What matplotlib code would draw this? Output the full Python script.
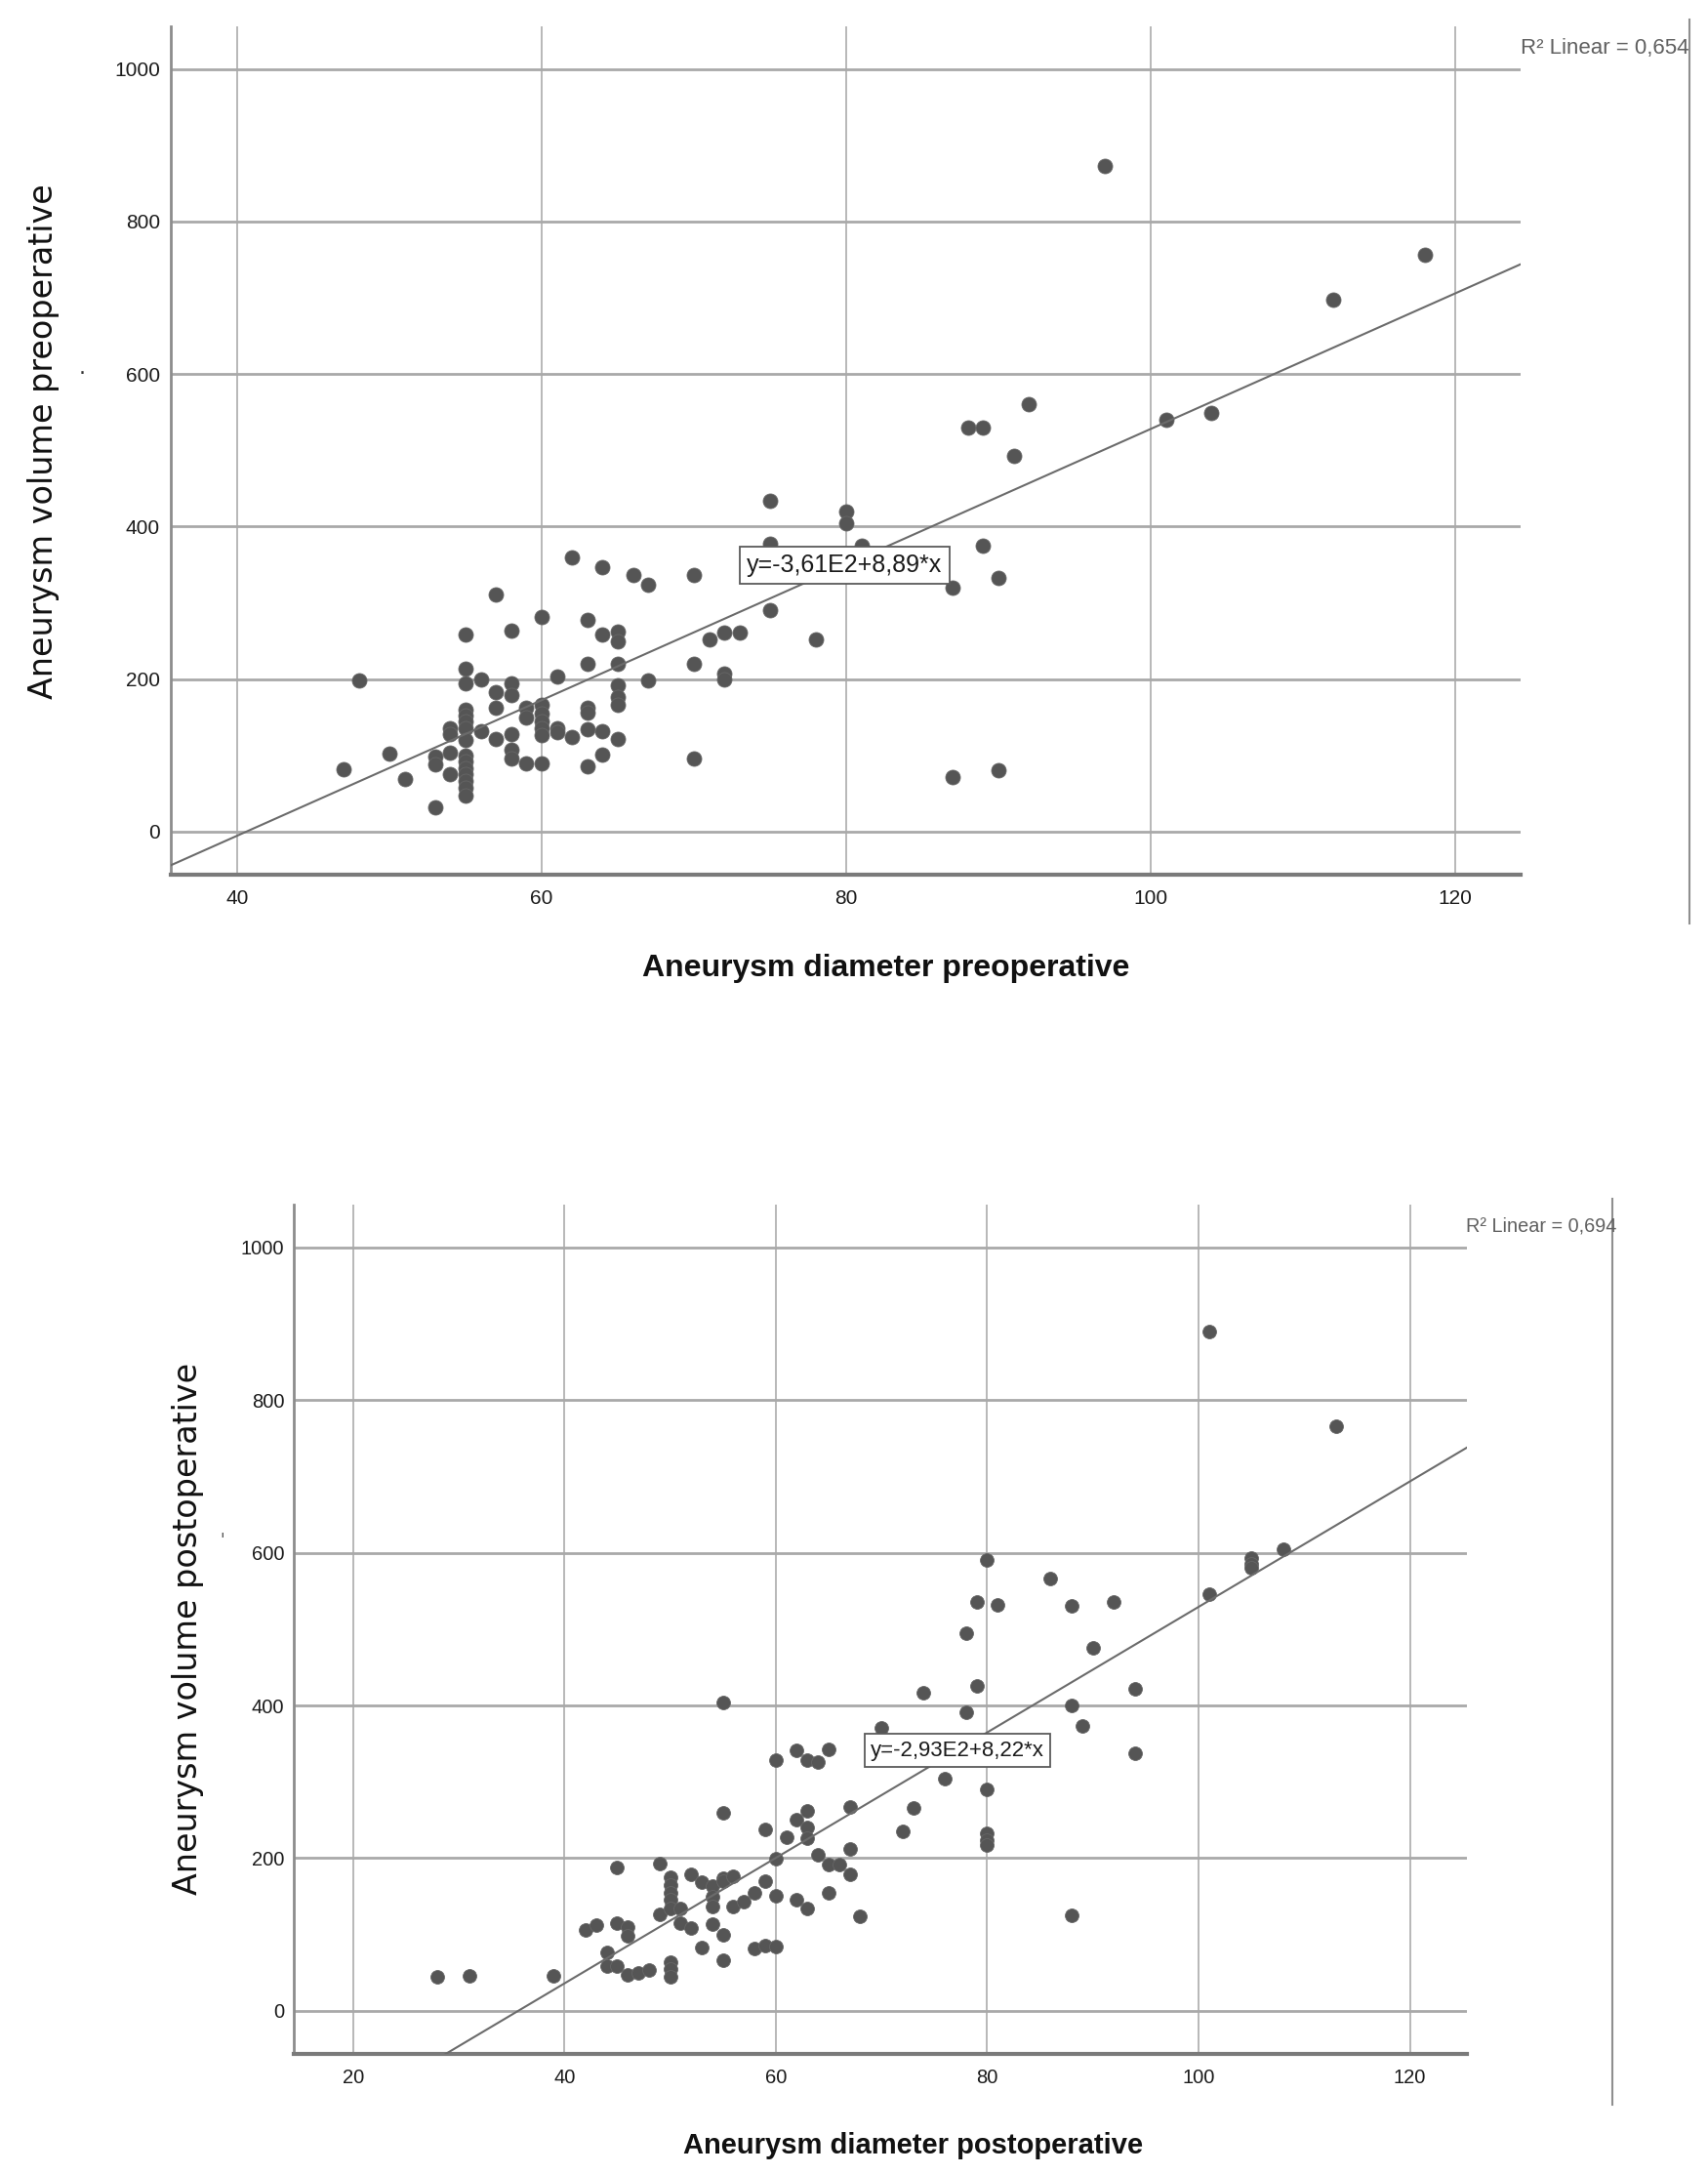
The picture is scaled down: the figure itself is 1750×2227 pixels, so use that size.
import numpy as np
import matplotlib
matplotlib.use("Agg")
import matplotlib.pyplot as plt
import matplotlib.font_manager as fm
from matplotlib.lines import Line2D

# ---------------- data ----------------
pre_diameter = [
    47, 48, 50, 51,
    53, 53, 53,
    54, 54, 54, 54,
    55, 55, 55, 55, 55, 55, 55, 55, 55, 55, 55, 55, 55, 55, 55,
    56, 56,
    57, 57, 57, 57,
    58, 58, 58, 58, 58, 58,
    59, 59, 59,
    60, 60, 60, 60, 60, 60, 60,
    61, 61, 61,
    62, 62,
    63, 63, 63, 63, 63, 63,
    64, 64, 64, 64,
    65, 65, 65, 65, 65, 65, 65,
    66, 67, 67,
    70, 70, 70, 71, 72, 72, 72, 73,
    75, 75, 75, 78, 80, 80, 81,
    87, 87, 88, 89, 89, 90, 90, 91, 92,
    97, 101, 104, 112, 118]
pre_volume = [
    82, 198, 102, 69,
    98, 88, 32,
    135, 128, 103, 75,
    258, 214, 195, 160, 152, 145, 135, 120, 100, 92, 83, 75, 66, 58, 47,
    200, 132,
    311, 183, 162, 121,
    264, 194, 179, 128, 107, 96,
    162, 149, 90,
    281, 166, 155, 145, 135, 126, 90,
    203, 136, 130,
    360, 124,
    278, 220, 162, 156, 134, 85,
    347, 258, 132, 101,
    262, 250, 220, 192, 176, 166, 121,
    337, 324, 198,
    337, 220, 96, 252, 261, 207, 200, 261,
    434, 378, 290, 252, 420, 405, 375,
    320, 71, 530, 530, 375, 333, 80, 493, 560,
    873, 540, 549, 698, 757]

post_diameter = [
    28, 31, 39, 42, 43,
    44, 44,
    45, 45, 45,
    46, 46, 46,
    47, 48,
    49, 49,
    50, 50, 50, 50, 50, 50, 50, 50,
    51, 51,
    52, 52,
    53, 53,
    54, 54, 54, 54,
    55, 55, 55, 55, 55, 55,
    56, 56, 57,
    58, 58,
    59, 59, 59,
    60, 60, 60, 60,
    61,
    62, 62, 62,
    63, 63, 63, 63, 63,
    64, 64,
    65, 65, 65,
    66,
    67, 67, 67,
    68, 70, 72, 73, 74, 76,
    78, 78, 79, 79,
    80, 80, 80, 80, 80,
    81, 86,
    88, 88, 88,
    89, 90, 92, 94, 94,
    101, 101,
    105, 105, 105,
    108, 113]
post_volume = [
    45, 46, 46, 106, 112,
    77, 59,
    188, 115, 58,
    110, 98, 47,
    49, 53,
    193, 126,
    175, 165, 155, 145, 134, 64, 55, 45,
    134, 115,
    179, 109,
    168, 83,
    164, 150, 137, 113,
    404, 259, 174, 170, 100, 66,
    176, 136, 143,
    155, 82,
    237, 170, 85,
    328, 199, 151, 84,
    228,
    341, 250, 146,
    328, 262, 240, 226, 134,
    326, 204,
    343, 191, 154,
    191,
    267, 212, 179,
    124, 371, 235, 266, 416, 304,
    495, 391, 536, 425,
    590, 290, 232, 224, 217,
    532, 566,
    531, 400, 125,
    373, 476, 535, 422, 337,
    890, 546,
    593, 586, 580,
    604, 766]

pre_fit = (-361.0, 8.89)      # intercept, slope (from chart label)
post_fit = (-293.0, 8.22)
pre_fit_label = "y=-3,61E2+8,89*x"
post_fit_label = "y=-2,93E2+8,22*x"
pre_r2_label = "R\u00b2 Linear = 0,654"
post_r2_label = "R\u00b2 Linear = 0,694"

pre_xticks = [40, 60, 80, 100, 120]
post_xticks = [20, 40, 60, 80, 100, 120]
yticks = [0, 200, 400, 600, 800, 1000]

# ---------------- fonts ----------------
names = {f.name for f in fm.fontManager.ttflist}
SANS = "Liberation Sans" if "Liberation Sans" in names else "DejaVu Sans"

W, H = 1750, 2227
fig = plt.figure(figsize=(W / 100, H / 100), dpi=100, facecolor="white")


def fx(px):
    return px / W


def fy(py):
    return 1 - py / H


def make_axes(left, right, top, bottom):
    return fig.add_axes([fx(left), fy(bottom), fx(right) - fx(left), (bottom - top) / H])


def style(ax, xlim, xticks, tick_fs, xpad, ypad):
    ax.set_xlim(*xlim)
    ax.set_ylim(-56.5, 1056)
    ax.set_xticks(xticks)
    ax.set_yticks(yticks)
    ax.set_xticklabels([str(t) for t in xticks], fontfamily=SANS)
    ax.set_yticklabels([str(t) for t in yticks], fontfamily=SANS)
    ax.tick_params(axis="both", length=0, labelsize=tick_fs, labelcolor="#1a1a1a")
    ax.tick_params(axis="x", pad=xpad)
    ax.tick_params(axis="y", pad=ypad)
    ax.grid(axis="y", color="#a9a9a9", lw=2.0, zorder=0)
    ax.grid(axis="x", color="#b8b8b8", lw=1.4, zorder=0)
    ax.set_axisbelow(True)
    for s in ("top", "right"):
        ax.spines[s].set_visible(False)
    ax.spines["left"].set_color("#8c8c8c")
    ax.spines["left"].set_linewidth(2.0)
    ax.spines["bottom"].set_color("#7a7a7a")
    ax.spines["bottom"].set_linewidth(3.0)


def draw(ax, xs, ys, fit, fit_label, label_pos, label_fs, ms):
    ax.scatter(xs, ys, s=ms, color="#555555", edgecolors="#666666",
               linewidths=0.6, zorder=3)
    xl = np.array(ax.get_xlim())
    ax.plot(xl, fit[0] + fit[1] * xl, color="#6b6b6b", lw=1.5, zorder=4)
    ax.text(label_pos[0], label_pos[1], fit_label, ha="center", va="center",
            fontsize=label_fs, fontfamily=SANS, color="#1a1a1a", zorder=6,
            bbox=dict(boxstyle="square,pad=0.28", fc="white", ec="#5a5a5a", lw=1.3))


# ---------------- top chart ----------------
ax1 = make_axes(175, 1558, 27, 896)
style(ax1, (35.64, 124.3), pre_xticks, 15, 11, 8)
draw(ax1, pre_diameter, pre_volume, pre_fit, pre_fit_label, (79.9, 349), 18, 117)

fig.text(fx(45), fy(452), "Aneurysm volume preoperative", rotation=90,
         ha="center", va="center", fontsize=24, fontfamily="DejaVu Sans", color="#111111")
fig.text(fx(908), fy(992), "Aneurysm diameter preoperative", ha="center", va="center",
         fontsize=23, fontweight="bold", fontfamily=SANS, color="#111111")
fig.text(fx(1558), fy(55), pre_r2_label, ha="left", va="baseline",
         fontsize=16, fontfamily=SANS, color="#606060")
fig.add_artist(Line2D([fx(1731), fx(1731)], [fy(20), fy(946)], color="#8f8f8f", lw=1.5))
fig.text(fx(84), fy(383), ".", ha="center", va="baseline", fontsize=16, color="#333333")

# ---------------- bottom chart ----------------
ax2 = make_axes(301, 1503, 1234, 2104)
style(ax2, (14.4, 125.4), post_xticks, 14.5, 11, 7)
draw(ax2, post_diameter, post_volume, post_fit, post_fit_label, (77.2, 341), 16, 100)

fig.text(fx(193), fy(1668), "Aneurysm volume postoperative", rotation=90,
         ha="center", va="center", fontsize=24, fontfamily="DejaVu Sans", color="#111111")
fig.text(fx(936), fy(2198), "Aneurysm diameter postoperative", ha="center", va="center",
         fontsize=21, fontweight="bold", fontfamily=SANS, color="#111111")
fig.text(fx(1502), fy(1262), post_r2_label, ha="left", va="baseline",
         fontsize=14.3, fontfamily=SANS, color="#606060")
fig.add_artist(Line2D([fx(1652), fx(1652)], [fy(1228), fy(2156)], color="#8f8f8f", lw=1.5))
fig.text(fx(228), fy(1583), "'", ha="center", va="baseline", fontsize=12, color="#555555")

fig.savefig("out.png", dpi=100, facecolor="white")
